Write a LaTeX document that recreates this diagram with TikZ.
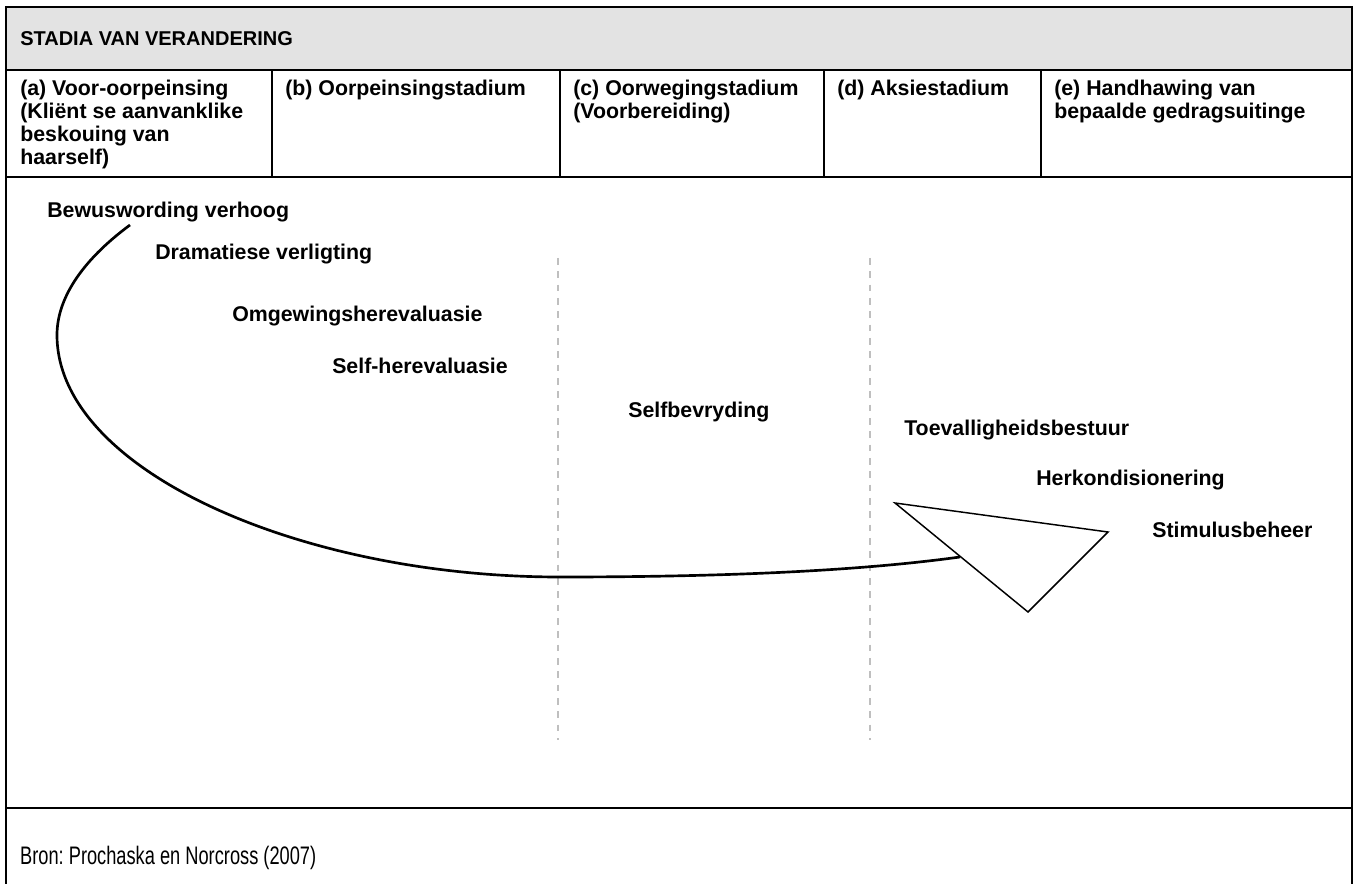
\documentclass[tikz,border=0pt]{standalone}
\usepackage{fontspec}
\setmainfont{Liberation Sans}
\frenchspacing
\begin{document}
\begin{tikzpicture}[x=0.75pt,y=-0.75pt,
  frame/.style={line width=1.5pt},
  colhead/.style={anchor=north west, inner sep=0pt, align=left, font=\fontsize{16}{17.1}\selectfont\bfseries},
  proc/.style={anchor=west, inner sep=0pt, font=\fontsize{16}{18}\selectfont\bfseries},
  stagesep/.style={gray!50, line width=0.8pt, dash pattern=on 5pt off 5pt}]
  \useasboundingbox (0,0) rectangle (1353,884);
  % table
  \fill[gray!22] (6,7) rectangle (1352,70);
  \draw[frame] (6,884) -- (6,7) -- (1352,7) -- (1352,884);
  \draw[frame] (6,70) -- (1352,70);
  \draw[frame] (6,177) -- (1352,177);
  \draw[frame] (6,808) -- (1352,808);
  \foreach \x in {272,560,824,1041}
    \draw[frame] (\x,70) -- (\x,177);
  \node[colhead, anchor=west, font=\fontsize{15}{17}\selectfont\bfseries] (title) at (20,39) {STADIA VAN VERANDERING};
  \node[colhead] (sa) at (20,80) {(a) Voor-oorpeinsing\\(Kliënt se aanvanklike\\beskouing van\\haarself)};
  \node[colhead] (sb) at (285,80) {(b) Oorpeinsingstadium};
  \node[colhead] (sc) at (573,80) {(c) Oorwegingstadium\\(Voorbereiding)};
  \node[colhead] (sd) at (837,80) {(d) Aksiestadium};
  \node[colhead] (se) at (1054,80) {(e) Handhawing van\\bepaalde gedragsuitinge};
  % stages
  \draw[stagesep] (558,258) -- (558,740);
  \draw[stagesep] (870,258) -- (870,740);
  % processes
  \node[proc] (p1) at (47,212) {Bewuswording verhoog};
  \node[proc] (p2) at (155,254) {Dramatiese verligting};
  \node[proc] (p3) at (232,316) {Omgewingsherevaluasie};
  \node[proc] (p4) at (332,366) {Self-herevaluasie};
  \node[proc] (p5) at (628,412) {Selfbevryding};
  \node[proc] (p6) at (904,430) {Toevalligheidsbestuur};
  \node[proc] (p7) at (1036,480) {Herkondisionering};
  \node[proc] (p8) at (1152,530) {Stimulusbeheer};
  % arrow
  \coordinate (start) at (130,225);
  \coordinate (tA) at (895,503);
  \coordinate (tB) at (1108,532);
  \coordinate (tC) at (1028,612);
  \coordinate (hit) at (960,557);
  \draw[line width=2pt] (start) .. controls (80,262) and (57,300) .. (57,335)
    .. controls (57,470) and (300,577) .. (560,577)
    .. controls (760,577) and (880,568) .. (hit);
  \draw[line width=1.1pt, fill=white, line join=miter] (tA) -- (tB) -- (tC) -- cycle;
  % source
  \node[anchor=west, inner sep=0pt, xscale=0.72, font=\fontsize{19}{22}\selectfont] (src) at (20,858) {Bron: Prochaska en Norcross (2007)};
\end{tikzpicture}
\end{document}
